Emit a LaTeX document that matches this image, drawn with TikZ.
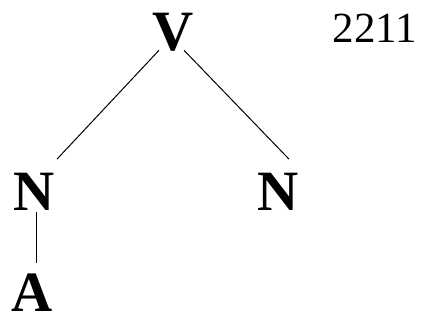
\documentclass[tikz,border=0pt]{standalone}
\usepackage{fontspec}
\setmainfont{Liberation Serif}
\begin{document}
\begin{tikzpicture}[x=1pt,y=1pt,
  lab/.style={inner sep=0pt,font=\fontsize{57}{60}\selectfont\bfseries},
  edge/.style={line width=1pt}]
\useasboundingbox (0,0) rectangle (423,320);
\node[lab] (V) at (173,288) {V};
\node[lab] (N1) at (34,128) {N};
\node[lab] (N2) at (278,128) {N};
\node[lab] (A) at (32,27) {A};
\node[inner sep=0pt,font=\fontsize{43}{45}\selectfont] (num) at (375,292) {2211};
\draw[edge] ([xshift=-14pt,yshift=1pt]V.south) -- ([xshift=23pt,yshift=14pt]N1.north);
\draw[edge] ([xshift=11pt,yshift=1pt]V.south) -- ([xshift=11pt,yshift=14pt]N2.north);
\draw[edge] ([xshift=2pt,yshift=-1pt]N1.south) -- ([xshift=4pt,yshift=11pt]A.north);
\end{tikzpicture}
\end{document}
